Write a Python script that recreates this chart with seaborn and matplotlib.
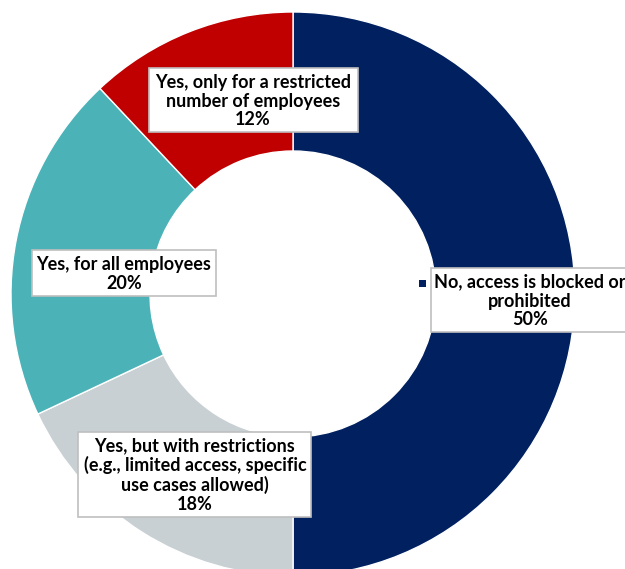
import matplotlib
matplotlib.use("Agg")
import matplotlib.pyplot as plt
from matplotlib.patches import Rectangle
import seaborn as sns

# Survey responses, clockwise from 12 o'clock
categories = [
    "No, access is blocked or\nprohibited",
    "Yes, but with restrictions\n(e.g., limited access, specific\nuse cases allowed)",
    "Yes, for all employees",
    "Yes, only for a restricted\nnumber of employees",
]
shares = [50, 18, 20, 12]
colors = ["#002060", "#C8D0D3", "#4BB3B8", "#C00000"]

sns.set_theme(style="white")
plt.rcParams["font.family"] = ["Lato", "DejaVu Sans"]

W, H = 625, 569
fig = plt.figure(figsize=(W / 100, H / 100), dpi=100)
ax = fig.add_axes([0, 0, 1, 1])

# donut drawn in a y-down pixel frame: mirror the angles accordingly
cx, cy, r_out, r_in = 293, 294, 282, 143
ax.pie(
    shares,
    colors=colors,
    startangle=-90,
    counterclock=True,
    center=(cx, cy),
    radius=r_out,
    wedgeprops=dict(width=r_out - r_in, edgecolor="white", linewidth=1),
    frame=True,
)
ax.set_xlim(0, W)
ax.set_ylim(H, 0)
ax.set_aspect("equal")
ax.axis("off")

# label boxes: (x0, y0, x1, y1) and text centre
boxes = [
    ((431, 268, 640, 332), (530, 301)),
    ((78, 432, 311, 517), (195, 475)),
    ((32, 250, 216, 296), (124, 274)),
    ((149, 68, 358, 132), (253, 101)),
]
for cat, val, (rect, (tx, ty)) in zip(categories, shares, boxes):
    x0, y0, x1, y1 = rect
    ax.add_patch(Rectangle((x0, y0), x1 - x0, y1 - y0, facecolor="white",
                           edgecolor="#BFBFBF", linewidth=1.2, zorder=5))
    ax.text(tx, ty, f"{cat}\n{val}%", ha="center", va="center",
            fontsize=13, fontweight="bold", color="black",
            linespacing=1.13, zorder=6)

# legend key beside the first label
ax.add_patch(Rectangle((419, 280), 7, 7, facecolor=colors[0],
                       edgecolor="none", zorder=6))

fig.savefig("out.png", dpi=100)
